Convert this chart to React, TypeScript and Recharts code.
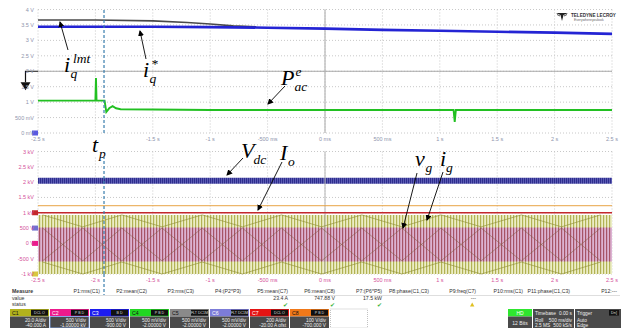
import React from "react";
import {
  ComposedChart,
  Line,
  Area,
  XAxis,
  YAxis,
  CartesianGrid,
  ReferenceLine,
  ReferenceDot
} from "recharts";

// time base, seconds
const timeTicks = [-2.5, -2, -1.5, -1, -0.5, 0, 0.5, 1, 1.5, 2, 2.5];
const timeLabels = ["-2.5 s", "-2 s", "-1.5 s", "-1 s", "-500 ms", "0 ms", "500 ms", "1 s", "1.5 s", "2 s", "2.5 s"];
const tp = -1.925;

// upper grid (V)
const upperTicks = [0, 0.5, 1, 1.5, 2, 2.5, 3, 3.5, 4];
const upperLabels = ["0 mV", "500 mV", "1 V", "1.5 V", "2 V", "2.5 V", "3 V", "3.5 V", "4 V"];

const iqLmtT = [-2.5, -2, -1.5, -1.2, -1, -0.8, -0.6];
const iqLmtV = [3.66, 3.66, 3.63, 3.58, 3.53, 3.47, 3.44];

const iqRefT = [-2.5, -1.5, -1, -0.5, 0, 0.5, 1, 1.5, 2, 2.5];
const iqRefV = [3.44, 3.44, 3.43, 3.41, 3.38, 3.34, 3.31, 3.28, 3.25, 3.21];

const pacT = [-2.5, -2.0, -1.995, -1.99, -1.92, -1.905, -1.88, -1.85, -1.82, -1.78, -1.5, -1.0, 1.12, 1.13, 1.14, 2.5];
const pacV = [1.05, 1.05, 1.78, 1.05, 1.05, 0.68, 0.8, 0.87, 0.8, 0.77, 0.76, 0.745, 0.745, 0.36, 0.745, 0.745];

// lower grid (V)
const lowerTicks = [-1000, -500, 0, 500, 1000, 1500, 2000, 2500, 3000];
const lowerLabels = ["-1 kV", "-500 V", "0 V", "500 V", "1 kV", "1.5 kV", "2 kV", "2.5 kV", "3 kV"];

const bandT = [-2.5, 2.5];
const vdcBand = [1950, 2140];
const igBand = [-1000, 930];
const vgBand = [-590, 520];
const ioLevel = 1000;
const refLevel = 1230;

// aliasing envelope corners
const envT = [-2.46, -2.11, -1.77, -1.42, -1.07, -0.72, -0.38, -0.03, 0.32, 0.67, 1.01, 1.36, 1.71, 2.06, 2.4];
const igTopEnv = [930, 540, 930, 540, 930, 540, 930, 540, 930, 540, 930, 540, 930, 540, 930];
const igBotEnv = [-610, -1000, -610, -1000, -610, -1000, -610, -1000, -610, -1000, -610, -1000, -610, -1000, -610];
const vgEnvA = [500, -570, 500, -570, 500, -570, 500, -570, 500, -570, 500, -570, 500, -570, 500];
const vgEnvB = [-570, 500, -570, 500, -570, 500, -570, 500, -570, 500, -570, 500, -570, 500, -570];

const measures = [
  { name: "P1:rms(C1)", value: "", status: "" },
  { name: "P2:mean(C2)", value: "", status: "" },
  { name: "P3:rms(C3)", value: "", status: "" },
  { name: "P4:(P2*P3)", value: "", status: "" },
  { name: "P5:mean(C7)", value: "23.4 A", status: "ok" },
  { name: "P6:mean(C8)", value: "747.88 V", status: "ok" },
  { name: "P7:(P6*P5)", value: "17.5 kW", status: "ok" },
  { name: "P8:phase(C1,C3)", value: "", status: "" },
  { name: "P9:freq(C7)", value: "---", status: "warn" },
  { name: "P10:rms(C1)", value: "", status: "" },
  { name: "P11:phase(C1,C3)", value: "", status: "" },
  { name: "P12:---", value: "", status: "" }
];

const channels = [
  { name: "C1", color: "#b2b21c", ink: "#111", tags: "DCL O", scale: "20.0 A/div", offset: "-40.000 A" },
  { name: "C2", color: "#ec1a8c", ink: "#fff", tags: "P B D", scale: "500 V/div", offset: "-1.00000 kV" },
  { name: "C3", color: "#1c1cf0", ink: "#fff", tags: "B D", scale: "500 V/div", offset: "-900.00 V" },
  { name: "C4", color: "#22d622", ink: "#111", tags: "P B D", scale: "500 mV/div", offset: "-2.00000 V" },
  { name: "C5", color: "#8a8a8a", ink: "#111", tags: "FLT DC1M", scale: "500 mV/div", offset: "-2.00000 V" },
  { name: "C6", color: "#7c7cd8", ink: "#fff", tags: "FLT DC1M", scale: "500 mV/div", offset: "-2.00000 V" },
  { name: "C7", color: "#e41414", ink: "#fff", tags: "DCL O", scale: "200 A/div", offset: "-20.00 A ofst" },
  { name: "C8", color: "#f07818", ink: "#111", tags: "P B D", scale: "100 V/div", offset: "-700.000 V" }
];

const pts = (ts: number[], vs: number[]) => ts.map((t, i) => ({ t, v: vs[i] }));
const lowerRows = bandT.map((t) => ({ t, vdc: vdcBand, ig: igBand, vg: vgBand, io: ioLevel, ref: refLevel }));

const sans = "'Liberation Sans', Arial, sans-serif";
const serif = "'Liberation Serif', 'DejaVu Serif', serif";

// plain tick text (no wrapping); `hidden` lists ticks covered by an annotation
const yTick = (ticks: number[], labels: string[], color: string) => (p: any) => (
  <text x={p.x} y={p.y} dy={2} textAnchor="end" fontSize={5.5} fill={color} fontFamily={sans}>
    {labels[ticks.indexOf(p.payload.value)] ?? ""}
  </text>
);
const xTick = (color: string, hidden: number[] = []) => (p: any) =>
  hidden.includes(p.payload.value) ? <g /> : (
    <text x={p.x} y={p.y} dy={4} textAnchor="middle" fontSize={5.5} fill={color} fontFamily={sans}>
      {timeLabels[timeTicks.indexOf(p.payload.value)] ?? ""}
    </text>
  );

const tab = (color: string) => (p: any) => (
  <rect x={p.cx - 6} y={p.cy - 2.5} width={6} height={5} fill={color} />
);

const offsetArrow = (p: any) => (
  <g>
    <path d={`M${p.cx},${p.cy}H${p.cx - 12.5}V${p.cy + 11}`} stroke="#111" fill="none" strokeWidth={1.2} />
    <path d={`M${p.cx - 17.5},${p.cy + 11}H${p.cx - 7.5}L${p.cx - 12.5},${p.cy + 19}Z`} fill="#111" />
  </g>
);

function MathLabel(props: { x: number; y: number; base: string; sub: string; sup?: string; subDx: number; supDx?: number }) {
  const { x, y, base, sub, sup, subDx, supDx } = props;
  return (
    <text x={x} y={y} fontFamily={serif} fontStyle="italic" fontSize={22} fill="#000">
      {base}
      <tspan x={x + subDx} y={y + 6} fontSize={13.5}>{sub}</tspan>
      {sup ? <tspan x={x + (supDx ?? subDx)} y={y - 9.5} fontSize={13.5}>{sup}</tspan> : null}
    </text>
  );
}

export default function App() {
  const plotLeft = 38;
  const plotW = 574;
  const tpX = plotLeft + ((tp + 2.5) / 5) * plotW;
  const arrows = [
    [68, 50, 60, 22],
    [146, 59, 140, 31],
    [285, 86, 268, 104],
    [243, 158, 227, 175],
    [282, 162, 258, 210],
    [417, 173, 403, 228],
    [443, 172, 427, 220]
  ];

  return (
    <div style={{ position: "absolute", left: 0, top: 0, width: 622, height: 328, background: "#fff", overflow: "hidden" }}>
      <div style={{ position: "absolute", left: 0, top: 0 }}>
        <ComposedChart width={622} height={145} margin={{ top: 9.5, right: 10, bottom: 0, left: 0 }}>
          <CartesianGrid stroke="#c8c8c8" strokeDasharray="1 2" />
          <XAxis
            type="number"
            dataKey="t"
            domain={[-2.5, 2.5]}
            ticks={timeTicks}
            interval={0}
            height={12}
            tickLine={false}
            axisLine={false}
            tickSize={2}
            tick={xTick("#8e94ac", [-2])}
          />
          <YAxis
            type="number"
            domain={[0, 4]}
            ticks={upperTicks}
            interval={0}
            width={38}
            tickLine={false}
            axisLine={false}
            tickSize={2}
            tick={yTick(upperTicks, upperLabels, "#8e94ac")}
          />
          <ReferenceLine y={2} stroke="#a8a8a8" />
          <ReferenceLine x={0} stroke="#a8a8a8" />
          <Line data={pts(iqLmtT, iqLmtV)} dataKey="v" type="linear" stroke="#4a4a4a" strokeWidth={1.6} dot={false} activeDot={false} isAnimationActive={false} />
          <Line data={pts(iqRefT, iqRefV)} dataKey="v" type="linear" stroke="#2424d4" strokeWidth={2.6} dot={false} activeDot={false} isAnimationActive={false} />
          <Line data={pts(pacT, pacV)} dataKey="v" type="linear" stroke="#22c022" strokeWidth={1.9} dot={false} activeDot={false} isAnimationActive={false} />
          <ReferenceLine x={tp} stroke="#3a7eae" strokeWidth={1.2} strokeDasharray="3 2" />
          <ReferenceDot x={-2.5} y={0} r={3} shape={tab("#5a5ae0")} />
          <ReferenceDot x={-2.5} y={2} r={3} shape={offsetArrow} />
        </ComposedChart>
      </div>

      <div style={{ position: "absolute", left: 0, top: 145 }}>
        <ComposedChart width={622} height={141} data={lowerRows} margin={{ top: 6.5, right: 10, bottom: 0, left: 0 }}>
          <defs>
            <pattern id="igStripe" width="3" height="8" patternUnits="userSpaceOnUse">
              <rect width="3" height="8" fill="#eceec6" />
              <rect width="1.2" height="8" fill="#b2b254" />
            </pattern>
            <pattern id="vgStripe" width="3" height="8" patternUnits="userSpaceOnUse">
              <rect width="3" height="8" fill="#dcb2d2" />
              <rect width="1.2" height="8" fill="#a65466" />
            </pattern>
            <pattern id="vdcStripe" width="2" height="8" patternUnits="userSpaceOnUse">
              <rect width="2" height="8" fill="#5c5cb4" />
              <rect width="1" height="8" fill="#2e2e8e" />
            </pattern>
          </defs>
          <CartesianGrid stroke="#c8c8c8" strokeDasharray="1 2" />
          <XAxis
            type="number"
            dataKey="t"
            domain={[-2.5, 2.5]}
            ticks={timeTicks}
            interval={0}
            height={12}
            tickLine={false}
            axisLine={false}
            tickSize={2}
            tick={xTick("#d4509a")}
          />
          <YAxis
            type="number"
            domain={[-1000, 3000]}
            ticks={lowerTicks}
            interval={0}
            width={38}
            tickLine={false}
            axisLine={false}
            tickSize={2}
            tick={yTick(lowerTicks, lowerLabels, "#d4509a")}
          />
          <ReferenceLine x={0} stroke="#b4b4b4" />
          <Area dataKey="ig" type="linear" stroke="none" fill="url(#igStripe)" fillOpacity={1} isAnimationActive={false} activeDot={false} />
          <Area dataKey="vg" type="linear" stroke="none" fill="url(#vgStripe)" fillOpacity={1} isAnimationActive={false} activeDot={false} />
          <Line data={pts(envT, igTopEnv)} dataKey="v" type="linear" stroke="#8c8c30" strokeOpacity={0.6} strokeWidth={1} dot={false} activeDot={false} isAnimationActive={false} />
          <Line data={pts(envT, igBotEnv)} dataKey="v" type="linear" stroke="#8c8c30" strokeOpacity={0.6} strokeWidth={1} dot={false} activeDot={false} isAnimationActive={false} />
          <Line data={pts(envT, vgEnvA)} dataKey="v" type="linear" stroke="#7e5a3c" strokeOpacity={0.5} strokeWidth={1} dot={false} activeDot={false} isAnimationActive={false} />
          <Line data={pts(envT, vgEnvB)} dataKey="v" type="linear" stroke="#7e5a3c" strokeOpacity={0.5} strokeWidth={1} dot={false} activeDot={false} isAnimationActive={false} />
          <Line dataKey="ref" type="linear" stroke="#e8a444" strokeWidth={1} dot={false} activeDot={false} isAnimationActive={false} />
          <Line dataKey="io" type="linear" stroke="#c4282c" strokeWidth={1.7} dot={false} activeDot={false} isAnimationActive={false} />
          <Area dataKey="vdc" type="linear" stroke="none" fill="url(#vdcStripe)" fillOpacity={1} isAnimationActive={false} activeDot={false} />
          <ReferenceLine x={tp} stroke="#3a7eae" strokeWidth={1.2} strokeDasharray="3 2" />
          <ReferenceDot x={-2.5} y={1000} r={3} shape={tab("#c4282c")} />
          <ReferenceDot x={-2.5} y={500} r={3} shape={tab("#7070d0")} />
          <ReferenceDot x={-2.5} y={0} r={3} shape={tab("#ec1a8c")} />
          <ReferenceDot x={-2.5} y={-1000} r={3} shape={tab("#d8c840")} />
        </ComposedChart>
      </div>

      <svg width={622} height={328} style={{ position: "absolute", left: 0, top: 0, pointerEvents: "none" }}>
        <defs>
          <marker id="ah" markerWidth="6" markerHeight="6" refX="5" refY="3" orient="auto" markerUnits="userSpaceOnUse">
            <path d="M0,0 L6,3 L0,6 Z" fill="#000" />
          </marker>
        </defs>

        {/* logo */}
        <g>
          <path d="M556,13 L568,13 L563.5,15 L562,21 L560.5,15 Z" fill="#222" />
          <path d="M557,14.5 L560,16 M567,14.5 L564,16" stroke="#222" strokeWidth={0.8} />
          <text x={571} y={17} fontSize={4.6} fontWeight="bold" fontFamily={sans} fill="#333">TELEDYNE LECROY</text>
          <text x={574} y={21} fontSize={3.4} fontFamily={sans} fill="#666">Everywhereyoulook</text>
        </g>

        {/* tp label backing */}
        <rect x={89} y={137} width={24} height={20} fill="#fff" />
        <line x1={tpX} y1={274} x2={tpX} y2={295} stroke="#3a7eae" strokeWidth={1.2} strokeDasharray="3 2" />

        {arrows.map((a, i) => (
          <line key={i} x1={a[0]} y1={a[1]} x2={a[2]} y2={a[3]} stroke="#000" strokeWidth={0.9} markerEnd="url(#ah)" />
        ))}

        <MathLabel x={64} y={72} base="i" sub="q" sup="lmt" subDx={6.5} supDx={9} />
        <MathLabel x={143} y={77} base="i" sub="q" sup="*" subDx={6.5} supDx={8} />
        <MathLabel x={281} y={85} base="P" sub="ac" sup="e" subDx={13.5} supDx={14.5} />
        <MathLabel x={92} y={152} base="t" sub="p" subDx={7} />
        <MathLabel x={241} y={158} base="V" sub="dc" subDx={12.5} />
        <MathLabel x={280} y={160} base="I" sub="o" subDx={8} />
        <MathLabel x={415} y={166} base="v" sub="g" subDx={10.5} />
        <MathLabel x={440} y={166} base="i" sub="g" subDx={6} />

        {/* measurement table */}
        <g fontFamily={sans} fontSize={5.2} fill="#333">
          <text x={12} y={293} fontWeight="bold">Measure</text>
          <text x={12} y={300}>value</text>
          <text x={12} y={306}>status</text>
          <line x1={12} y1={295.5} x2={620} y2={295.5} stroke="#c8c8c8" strokeWidth={0.6} />
          {measures.map((m, i) => {
            const right = 100 + i * 47;
            return (
              <g key={m.name}>
                <text x={right} y={293} textAnchor="end">{m.name}</text>
                {m.value ? <text x={right} y={300} textAnchor="end">{m.value}</text> : null}
                {m.status === "ok" ? (
                  <text x={right - 3} y={306.5} textAnchor="middle" fill="#3cb43c" fontSize={5.5}>✔</text>
                ) : null}
                {m.status === "warn" ? (
                  <path d={`M${right - 6},${306.5} l2.2,-4 l2.2,4 Z`} fill="#e0c020" />
                ) : null}
              </g>
            );
          })}
        </g>

        {/* channel descriptors */}
        <g fontFamily={sans}>
          {channels.map((c, i) => {
            const x = 10 + i * 40;
            return (
              <g key={c.name}>
                <rect x={x} y={309} width={39} height={7.5} fill={c.color} />
                <text x={x + 2} y={315} fontSize={5.2} fill={c.ink}>{c.name}</text>
                <rect x={x + 21} y={309.8} width={17} height={5.9} fill="#111" />
                <text x={x + 29.5} y={314.3} fontSize={3.6} textAnchor="middle" fill="#ddd">{c.tags}</text>
                <rect x={x} y={316.5} width={39} height={11.5} fill="#4a4a4a" stroke={i === 1 ? "#8ab4ff" : "none"} strokeWidth={0.8} />
                <text x={x + 36} y={321.6} fontSize={4.8} textAnchor="end" fill="#eee">{c.scale}</text>
                <text x={x + 36} y={327} fontSize={4.8} textAnchor="end" fill="#eee">{c.offset}</text>
              </g>
            );
          })}
          <rect x={330.5} y={309} width={37} height={19} fill="none" stroke="#999" strokeWidth={0.6} strokeDasharray="1 1" />

          <rect x={508} y={309} width={24} height={7.5} fill="#2ee62e" />
          <text x={520} y={315} fontSize={5} textAnchor="middle" fill="#fff">HD</text>
          <rect x={508} y={316.5} width={24} height={11.5} fill="#4a4a4a" />
          <text x={520} y={324.5} fontSize={5} textAnchor="middle" fill="#eee">12 Bits</text>

          <rect x={533} y={309} width={41} height={19} fill="#4a4a4a" />
          <text x={535} y={315} fontSize={4.8} fill="#eee">Timebase</text>
          <text x={572} y={315} fontSize={4.8} textAnchor="end" fill="#eee">0.00 s</text>
          <text x={535} y={321.6} fontSize={4.8} fill="#eee">Roll</text>
          <text x={572} y={321.6} fontSize={4.8} textAnchor="end" fill="#eee">500 ms/div</text>
          <text x={535} y={327} fontSize={4.8} fill="#eee">2.5 MS</text>
          <text x={572} y={327} fontSize={4.8} textAnchor="end" fill="#eee">500 kS/s</text>

          <rect x={575} y={309} width={46} height={19} fill="#4a4a4a" />
          <text x={577} y={315} fontSize={4.8} fill="#eee">Trigger</text>
          <rect x={609} y={310} width={10} height={5.6} fill="#111" />
          <text x={614} y={314.3} fontSize={3.8} textAnchor="middle" fill="#ddd">Dn]</text>
          <text x={577} y={321.6} fontSize={4.8} fill="#eee">Auto</text>
          <text x={577} y={327} fontSize={4.8} fill="#eee">Edge</text>
        </g>
      </svg>
    </div>
  );
}
